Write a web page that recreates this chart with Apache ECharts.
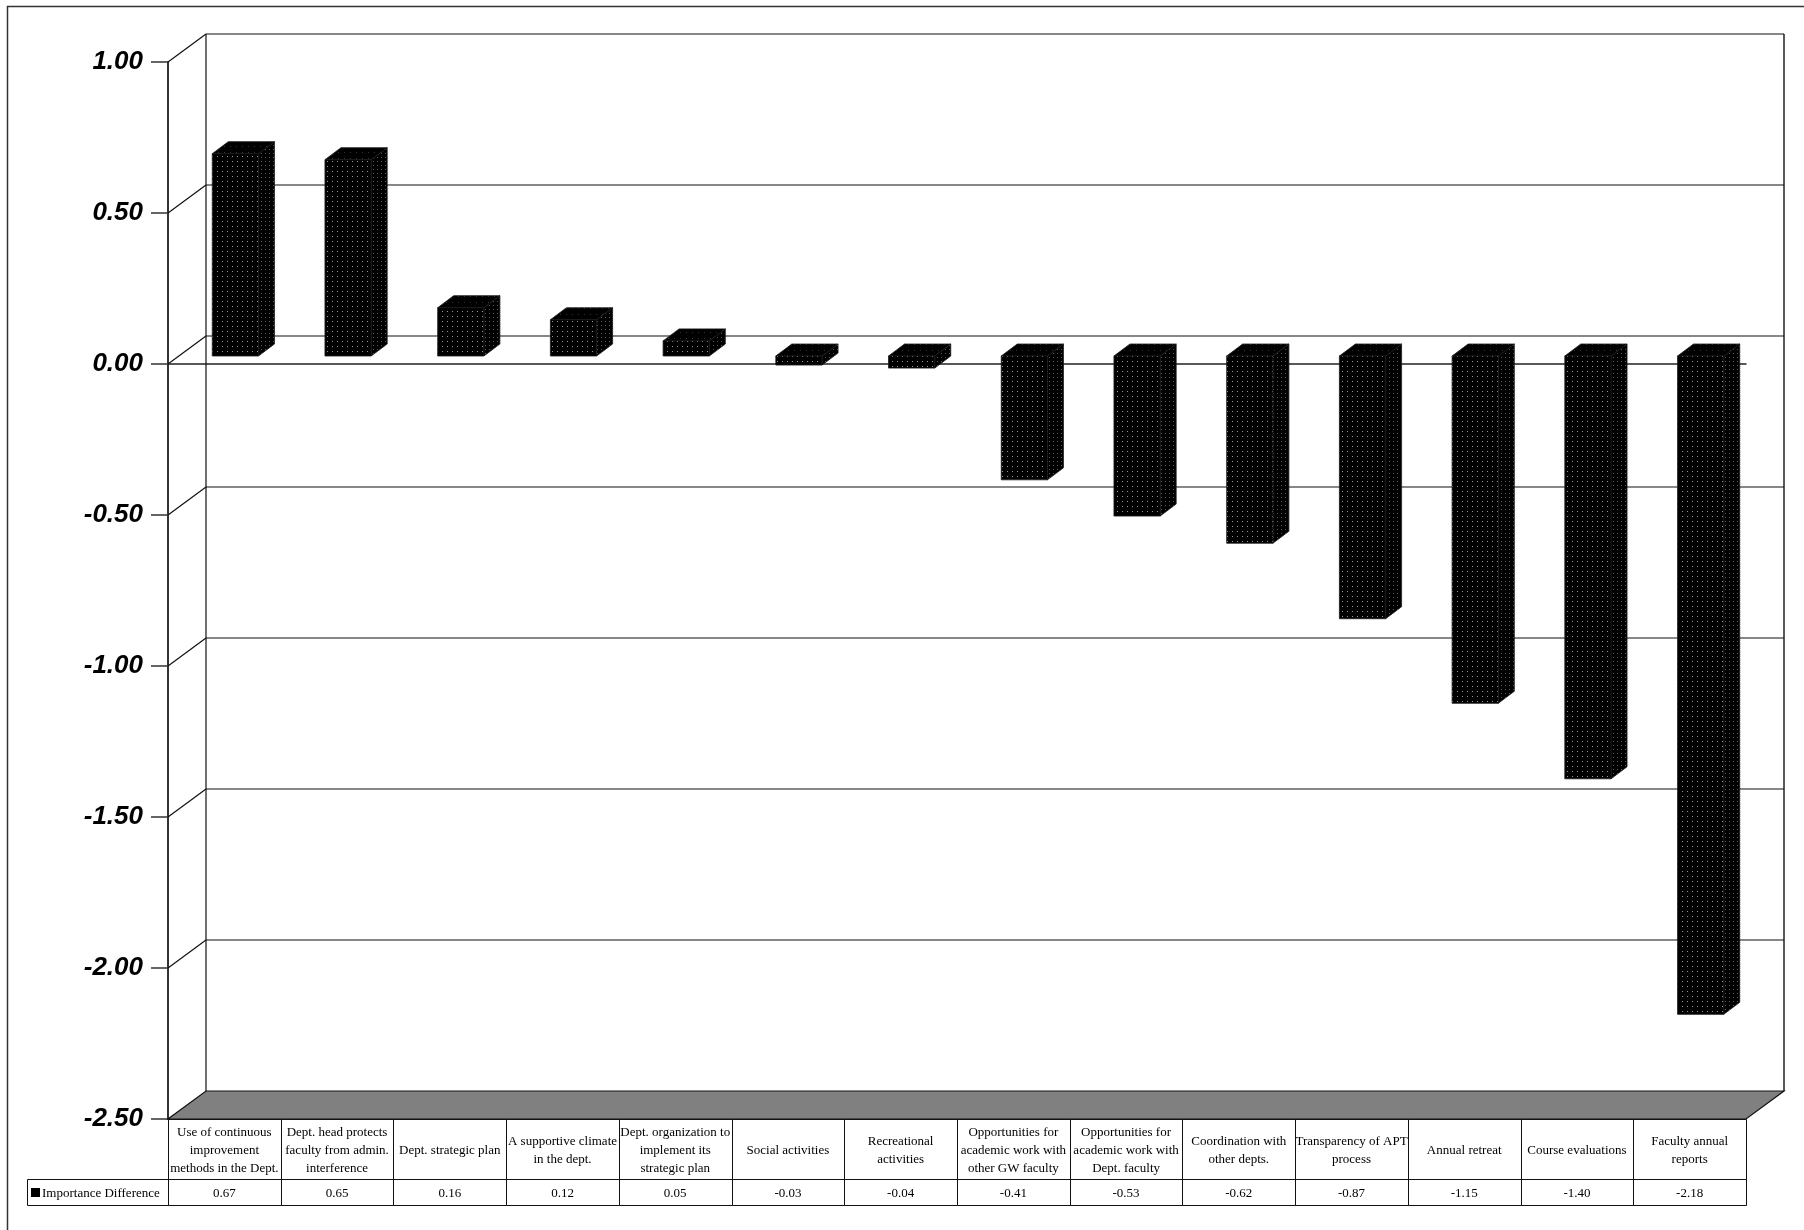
<!DOCTYPE html>
<html>
<head>
<meta charset="utf-8">
<script src="https://cdn.jsdelivr.net/npm/echarts@6.0.0/dist/echarts.min.js"></script>
<style>
  html, body { margin: 0; padding: 0; background: #fff; }
  #chart { width: 1804px; height: 1230px; }
</style>
</head>
<body>
<div id="chart"></div>
<script>
// Survey items (wrapped as they appear in the data table)
const categories = [
  'Use of continuous\nimprovement\nmethods in the Dept.',
  'Dept. head protects\nfaculty from admin.\ninterference',
  'Dept. strategic plan',
  'A supportive climate\nin the dept.',
  'Dept. organization to\nimplement its\nstrategic plan',
  'Social activities',
  'Recreational\nactivities',
  'Opportunities for\nacademic work with\nother GW faculty',
  'Opportunities for\nacademic work with\nDept. faculty',
  'Coordination with\nother depts.',
  'Transparency of APT\nprocess',
  'Annual retreat',
  'Course evaluations',
  'Faculty annual\nreports'
];
const importanceDifference = [0.67, 0.65, 0.16, 0.12, 0.05, -0.03, -0.04, -0.41, -0.53, -0.62, -0.87, -1.15, -1.40, -2.18];
const seriesName = 'Importance Difference';
const yTicks = [-2.5, -2.0, -1.5, -1.0, -0.5, 0.0, 0.5, 1.0];

// Pseudo-3D geometry (pixel offsets for the depth direction)
const WALL_DX = 38, WALL_DY = -28;
const BAR_SHIFT_X = 11, BAR_SHIFT_Y = -8;
const BAR_DX = 16, BAR_DY = -12;
const BAR_WIDTH_RATIO = 0.41;
const HEADER_H = 60, VALUE_H = 26;

function makePattern(bg, dot, w, h, dots, dh) {
  const c = document.createElement('canvas');
  c.width = w; c.height = h;
  const g = c.getContext('2d');
  g.fillStyle = bg; g.fillRect(0, 0, w, h);
  g.fillStyle = dot;
  dots.forEach(([x, y]) => g.fillRect(x, y, 1, dh || 1));
  return { image: c, repeat: 'repeat' };
}
const frontFill = makePattern('#000', '#9a9a9a', 5, 5, [[2, 1]], 1);
const sideFill = makePattern('#000', '#5a5a5a', 4, 4, [[1, 1]], 1);
const topFill = makePattern('#000', '#333', 6, 6, [[2, 2]], 1);

const yMin = yTicks[0], yMax = yTicks[yTicks.length - 1];

function renderWall(params, api) {
  const cs = params.coordSys;
  const left = cs.x, right = cs.x + cs.width;
  const v = api.value(1);
  const y = api.coord([0, v])[1];
  const lineStyle = { stroke: '#111', lineWidth: 1.2, fill: null };
  const children = [];
  if (params.dataIndex === 0) {
    const yTop = api.coord([0, yMax])[1];
    // floor
    children.push({
      type: 'polygon',
      shape: { points: [[left, y], [right, y], [right + WALL_DX, y + WALL_DY], [left + WALL_DX, y + WALL_DY]] },
      style: { fill: '#808080', stroke: '#111', lineWidth: 1.2 }
    });
    // side wall edges
    children.push({ type: 'line', shape: { x1: left + WALL_DX, y1: yTop + WALL_DY, x2: left + WALL_DX, y2: y + WALL_DY }, style: lineStyle });
    children.push({ type: 'line', shape: { x1: right + WALL_DX, y1: yTop + WALL_DY, x2: right + WALL_DX, y2: y + WALL_DY }, style: { stroke: '#222', lineWidth: 1.5 } });
  } else {
    children.push({ type: 'line', shape: { x1: left, y1: y, x2: left + WALL_DX, y2: y + WALL_DY }, style: lineStyle });
    children.push({ type: 'line', shape: { x1: left + WALL_DX, y1: y + WALL_DY, x2: right + WALL_DX, y2: y + WALL_DY }, style: lineStyle });
  }
  return { type: 'group', children };
}

function renderBar(params, api) {
  const idx = api.value(0), v = api.value(1);
  const band = api.size([1, 0])[0];
  const base = api.coord([idx, 0]);
  const end = api.coord([idx, v]);
  const w = band * BAR_WIDTH_RATIO;
  const L = base[0] - w / 2 + BAR_SHIFT_X, R = L + w;
  const yt = Math.min(base[1], end[1]) + BAR_SHIFT_Y;
  const yb = Math.max(base[1], end[1]) + BAR_SHIFT_Y;
  const edge = { stroke: '#1a1a1a', lineWidth: 0.8 };
  return {
    type: 'group',
    children: [
      { type: 'polygon', shape: { points: [[R, yt], [R + BAR_DX, yt + BAR_DY], [R + BAR_DX, yb + BAR_DY], [R, yb]] },
        style: Object.assign({ fill: sideFill }, edge) },
      { type: 'polygon', shape: { points: [[L, yt], [L + BAR_DX, yt + BAR_DY], [R + BAR_DX, yt + BAR_DY], [R, yt]] },
        style: Object.assign({ fill: topFill }, edge) },
      { type: 'rect', shape: { x: L, y: yt, width: w, height: yb - yt },
        style: Object.assign({ fill: frontFill }, edge) }
    ]
  };
}

function renderTable(params, api) {
  const idx = api.value(0), v = api.value(1);
  const band = api.size([1, 0])[0];
  const cx = api.coord([idx, 0])[0];
  const left = Math.round(cx - band / 2) + 0.5;
  const right = Math.round(cx + band / 2) + 0.5;
  const top = Math.round(api.coord([idx, yMin])[1]) + 0.5;
  const cell = { fill: null, stroke: '#111', lineWidth: 1 };
  return {
    type: 'group',
    children: [
      { type: 'rect', shape: { x: left, y: top, width: right - left, height: HEADER_H }, style: cell },
      { type: 'rect', shape: { x: left, y: top + HEADER_H, width: right - left, height: VALUE_H }, style: cell },
      { type: 'text', x: cx, y: top + HEADER_H / 2 + 1,
        style: { text: categories[idx], fill: '#000', font: '13px "Liberation Serif", "Times New Roman", serif',
                 align: 'center', verticalAlign: 'middle', lineHeight: 18 } },
      { type: 'text', x: cx, y: top + HEADER_H + VALUE_H / 2 + 1,
        style: { text: v.toFixed(2), fill: '#000', font: '13px "Liberation Serif", "Times New Roman", serif',
                 align: 'center', verticalAlign: 'middle' } }
    ]
  };
}

const chart = echarts.init(document.getElementById('chart'), null, { renderer: 'canvas' });
chart.setOption({
  animation: false,
  backgroundColor: '#fff',
  grid: { left: 168, right: 58, top: 62, bottom: 111, containLabel: false },
  xAxis: {
    type: 'category',
    data: categories,
    boundaryGap: true,
    axisLine: { show: true, onZero: true, lineStyle: { color: '#222', width: 1.5 } },
    axisTick: { show: false },
    axisLabel: { show: false },
    splitLine: { show: false }
  },
  yAxis: {
    type: 'value',
    min: yMin, max: yMax, interval: 0.5,
    axisLine: { show: true, lineStyle: { color: '#333', width: 2 } },
    axisTick: { show: true, inside: false, length: 17, lineStyle: { color: '#333', width: 1.5 } },
    axisLabel: {
      margin: 25,
      formatter: v => v.toFixed(2),
      fontFamily: '"Liberation Sans", Arial, sans-serif',
      fontSize: 26, fontWeight: 'bold', fontStyle: 'italic', color: '#000'
    },
    splitLine: { show: false }
  },
  graphic: [
    { type: 'rect', z: 0, silent: true, shape: { x: 7.5, y: 6.5, width: 1900, height: 1300 },
      style: { fill: null, stroke: '#333', lineWidth: 1.5 } },
    { type: 'rect', z: 10, shape: { x: 27.5, y: 1179.5, width: 141, height: 26 },
      style: { fill: null, stroke: '#111', lineWidth: 1 } },
    { type: 'rect', z: 10, shape: { x: 31, y: 1188, width: 9, height: 9 }, style: { fill: '#000' } },
    { type: 'text', z: 10, x: 42, y: 1194,
      style: { text: seriesName, fill: '#000', font: '13px "Liberation Serif", "Times New Roman", serif', verticalAlign: 'middle' } }
  ],
  series: [
    { type: 'custom', name: 'wall', z: 1, silent: true, renderItem: renderWall,
      data: yTicks.map(v => [0, v]), encode: { x: 0, y: 1 } },
    { type: 'custom', name: seriesName, z: 3, renderItem: renderBar,
      data: importanceDifference.map((v, i) => [i, v]), encode: { x: 0, y: 1 } },
    { type: 'custom', name: 'table', z: 4, silent: true, renderItem: renderTable,
      data: importanceDifference.map((v, i) => [i, v]), encode: { x: 0, y: 1 } }
  ]
});
</script>
</body>
</html>
